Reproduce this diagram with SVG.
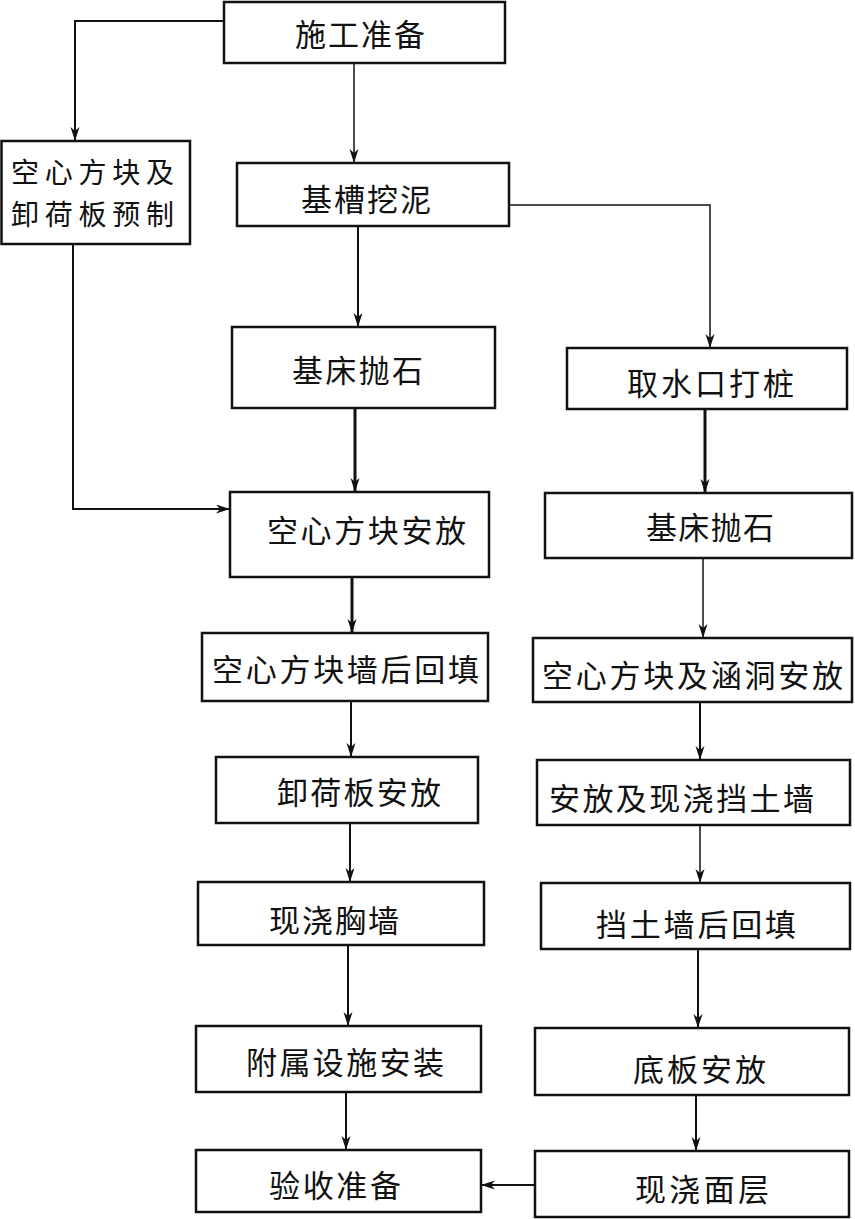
<svg xmlns="http://www.w3.org/2000/svg" width="855" height="1219" viewBox="0 0 855 1219">
<style>
.box{fill:#fff;stroke:#111;stroke-width:2.5}
.t{font-family:"Noto Sans CJK SC","Noto Sans CJK JP",sans-serif;font-size:31px;fill:#111;dominant-baseline:central}
.t2{font-size:28px}
.c{fill:none;stroke:#111;stroke-width:2}
.thin{stroke-width:1.5}
.thick{stroke-width:3}
</style>
<defs>
<marker id="ah" markerUnits="userSpaceOnUse" markerWidth="15" markerHeight="10" refX="14" refY="4.5" orient="auto">
<path d="M0,0 L14,4.5 L0,9 L4,4.5 z" fill="#111"/>
</marker>
</defs>
<rect width="855" height="1219" fill="#fff"/>
<g id="connectors">
<path class="c" d="M224,21 H75 V141" marker-end="url(#ah)"/>
<path class="c thin" d="M354,63 V163" marker-end="url(#ah)"/>
<path class="c thin" d="M509,205 H710 V348" marker-end="url(#ah)"/>
<path class="c" d="M358,226 V327" marker-end="url(#ah)"/>
<path class="c" d="M73,244 V509 H230" marker-end="url(#ah)"/>
<path class="c thick" d="M355,408 V492" marker-end="url(#ah)"/>
<path class="c thick" d="M705,409 V493" marker-end="url(#ah)"/>
<path class="c thick" d="M352,577 V633" marker-end="url(#ah)"/>
<path class="c thin" d="M703,558 V638" marker-end="url(#ah)"/>
<path class="c" d="M351,701 V757" marker-end="url(#ah)"/>
<path class="c" d="M700,702 V760" marker-end="url(#ah)"/>
<path class="c" d="M350,823 V882" marker-end="url(#ah)"/>
<path class="c thin" d="M700,825 V883" marker-end="url(#ah)"/>
<path class="c" d="M348,945 V1026" marker-end="url(#ah)"/>
<path class="c" d="M698,949 V1028" marker-end="url(#ah)"/>
<path class="c" d="M346,1092 V1150" marker-end="url(#ah)"/>
<path class="c" d="M696,1095 V1151" marker-end="url(#ah)"/>
<path class="c" d="M535,1185 H481" marker-end="url(#ah)"/>
</g>
<g id="n1"><rect class="box" x="224" y="2" width="281" height="61"/><text class="t" x="295" y="32" textLength="130" lengthAdjust="spacing">施工准备</text></g>
<g id="n2"><rect class="box" x="1.5" y="141" width="188.5" height="103"/><text class="t t2" x="11" y="171" textLength="163" lengthAdjust="spacing">空心方块及</text><text class="t t2" x="11" y="213" textLength="163" lengthAdjust="spacing">卸荷板预制</text></g>
<g id="n3"><rect class="box" x="237" y="163" width="272" height="63"/><text class="t" x="301" y="197" textLength="130" lengthAdjust="spacing">基槽挖泥</text></g>
<g id="n4"><rect class="box" x="567" y="348" width="280" height="61"/><text class="t" x="627" y="381" textLength="167" lengthAdjust="spacing">取水口打桩</text></g>
<g id="n5"><rect class="box" x="232" y="327" width="263" height="81"/><text class="t" x="292" y="368" textLength="131" lengthAdjust="spacing">基床抛石</text></g>
<g id="n6"><rect class="box" x="230" y="492" width="259" height="85"/><text class="t" x="267" y="528" textLength="199" lengthAdjust="spacing">空心方块安放</text></g>
<g id="n7"><rect class="box" x="545" y="493" width="307" height="65"/><text class="t" x="646" y="525" textLength="128" lengthAdjust="spacing">基床抛石</text></g>
<g id="n8"><rect class="box" x="202" y="633" width="286" height="68"/><text class="t" x="212" y="667" textLength="267" lengthAdjust="spacing">空心方块墙后回填</text></g>
<g id="n9"><rect class="box" x="533" y="638" width="319" height="64"/><text class="t" x="542" y="673" textLength="301" lengthAdjust="spacing">空心方块及涵洞安放</text></g>
<g id="n10"><rect class="box" x="216" y="757" width="262" height="66"/><text class="t" x="277" y="790" textLength="164" lengthAdjust="spacing">卸荷板安放</text></g>
<g id="n11"><rect class="box" x="537" y="760" width="313" height="65"/><text class="t" x="549" y="796" textLength="265" lengthAdjust="spacing">安放及现浇挡土墙</text></g>
<g id="n12"><rect class="box" x="198" y="882" width="286" height="63"/><text class="t" x="269" y="918" textLength="130" lengthAdjust="spacing">现浇胸墙</text></g>
<g id="n13"><rect class="box" x="541" y="883" width="309" height="66"/><text class="t" x="596" y="922" textLength="200" lengthAdjust="spacing">挡土墙后回填</text></g>
<g id="n14"><rect class="box" x="196" y="1026" width="285" height="66"/><text class="t" x="246" y="1060" textLength="198" lengthAdjust="spacing">附属设施安装</text></g>
<g id="n15"><rect class="box" x="535" y="1028" width="314" height="67"/><text class="t" x="633" y="1067" textLength="133" lengthAdjust="spacing">底板安放</text></g>
<g id="n16"><rect class="box" x="196" y="1150" width="285" height="62"/><text class="t" x="269" y="1183" textLength="132" lengthAdjust="spacing">验收准备</text></g>
<g id="n17"><rect class="box" x="535" y="1151" width="314" height="66"/><text class="t" x="635" y="1187" textLength="134" lengthAdjust="spacing">现浇面层</text></g>
</svg>
